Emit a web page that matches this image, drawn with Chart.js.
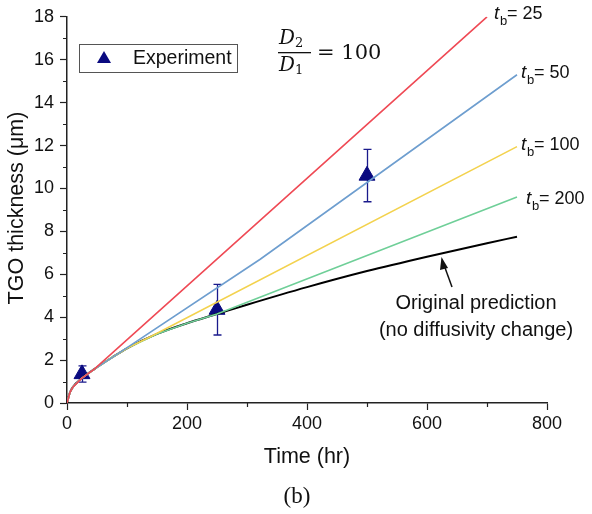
<!DOCTYPE html>
<html lang="en">
<head>
  <meta charset="UTF-8" />
  <title>TGO thickness</title>
  <script src="https://cdn.jsdelivr.net/npm/chart.js"></script>
  <style>
    html, body { margin: 0; padding: 0; background: #fff; }
    .wrap { width: 592px; height: 514px; position: relative; }
  </style>
</head>
<body>
  <div class="wrap"><canvas id="tgo-chart"></canvas></div>

  <script>
    // original prediction (no diffusivity change)
    const origTime = [0, 5, 10, 25, 45, 75, 100, 150, 200, 250, 300, 400, 500, 600, 700, 750];
    const origThick = [0, 0.5, 0.75, 1.16, 1.57, 2.12, 2.55, 3.22, 3.72, 4.15, 4.58, 5.4, 6.15, 6.82, 7.45, 7.75];

    // changed diffusivity, D2/D1 = 100
    const tb25Time = [0, 5, 10, 25, 45, 700];
    const tb25Thick = [0, 0.5, 0.75, 1.16, 1.57, 18];
    const tb50Time = [0, 5, 10, 25, 45, 77, 322, 750];
    const tb50Thick = [0, 0.5, 0.75, 1.16, 1.57, 2.15, 6.7, 15.3];
    const tb100Time = [0, 5, 10, 25, 45, 75, 100, 138, 750];
    const tb100Thick = [0, 0.5, 0.75, 1.16, 1.57, 2.12, 2.55, 3.08, 11.95];
    const tb200Time = [0, 5, 10, 25, 45, 75, 100, 150, 200, 250, 750];
    const tb200Thick = [0, 0.5, 0.75, 1.16, 1.57, 2.12, 2.55, 3.22, 3.72, 4.15, 9.6];

    // experiment
    const expTime = [25, 250, 500];
    const expThick = [1.35, 4.35, 10.6];
    const expErr = [0.38, 1.18, 1.22];

    const xTicks = [0, 200, 400, 600, 800];
    const yTicks = [0, 2, 4, 6, 8, 10, 12, 14, 16, 18];

    const lineLabels = [
      { tb: "25", x: 494, y: 14 },
      { tb: "50", x: 521, y: 73 },
      { tb: "100", x: 521, y: 145 },
      { tb: "200", x: 526, y: 199 }
    ];

    const pts = (xs, ys) => xs.map((x, i) => ({ x, y: ys[i] }));
    const SANS = "'Liberation Sans', Arial, sans-serif";
    const SERIF = "'DejaVu Serif', 'Liberation Serif', serif";

    const extras = {
      id: "extras",
      beforeDatasetsDraw(chart) {
        const { ctx, scales: { x, y } } = chart;
        ctx.save();
        // error bars
        ctx.strokeStyle = "#1a1a8c";
        ctx.lineWidth = 1.3;
        expTime.forEach((t, i) => {
          const px = Math.round(x.getPixelForValue(t)) + 0.5;
          const top = y.getPixelForValue(expThick[i] + expErr[i]);
          const bot = y.getPixelForValue(expThick[i] - expErr[i]);
          ctx.beginPath();
          ctx.moveTo(px, top); ctx.lineTo(px, bot);
          ctx.moveTo(px - 4, top); ctx.lineTo(px + 4, top);
          ctx.moveTo(px - 4, bot); ctx.lineTo(px + 4, bot);
          ctx.stroke();
        });
        ctx.restore();
      },
      afterDraw(chart) {
        const { ctx, scales: { x, y }, chartArea: a } = chart;
        ctx.save();
        // minor ticks
        ctx.strokeStyle = "#222";
        ctx.lineWidth = 1.2;
        ctx.beginPath();
        for (let v = 100; v < 800; v += 200) {
          const px = Math.round(x.getPixelForValue(v)) + 0.5;
          ctx.moveTo(px, a.bottom); ctx.lineTo(px, a.bottom + 4);
        }
        for (let v = 1; v < 18; v += 2) {
          const py = Math.round(y.getPixelForValue(v)) + 0.5;
          ctx.moveTo(a.left, py); ctx.lineTo(a.left - 4, py);
        }
        ctx.stroke();

        // legend box
        ctx.strokeStyle = "#555";
        ctx.lineWidth = 1;
        ctx.strokeRect(79.5, 44.5, 158, 28);
        ctx.fillStyle = "#0a0a80";
        ctx.beginPath();
        ctx.moveTo(104, 51); ctx.lineTo(111, 63); ctx.lineTo(97, 63);
        ctx.closePath(); ctx.fill();
        ctx.fillStyle = "#111";
        ctx.font = "19.5px " + SANS;
        ctx.textBaseline = "middle";
        ctx.textAlign = "left";
        ctx.fillText("Experiment", 133, 59);

        // t_b labels
        lineLabels.forEach(l => {
          ctx.font = "italic 19px " + SANS;
          ctx.fillText("t", l.x, l.y);
          ctx.font = "13px " + SANS;
          ctx.fillText("b", l.x + 6, l.y + 7);
          ctx.font = "18px " + SANS;
          ctx.fillText("= " + l.tb, l.x + 13, l.y);
        });

        // D2/D1 = 100
        ctx.font = "italic 20px " + SERIF;
        ctx.textAlign = "left";
        ctx.fillText("D", 279, 39);
        ctx.fillText("D", 279, 66);
        ctx.font = "13px " + SERIF;
        ctx.fillText("2", 295, 44);
        ctx.fillText("1", 295, 71);
        ctx.fillRect(278, 52, 33, 1.3);
        ctx.font = "21px " + SERIF;
        ctx.fillText("= 100", 317, 54);

        // arrow
        ctx.strokeStyle = "#111";
        ctx.fillStyle = "#111";
        ctx.lineWidth = 1.5;
        ctx.beginPath();
        ctx.moveTo(452, 287); ctx.lineTo(444, 265);
        ctx.stroke();
        ctx.beginPath();
        ctx.moveTo(441.5, 257); ctx.lineTo(448, 268); ctx.lineTo(440, 270);
        ctx.closePath(); ctx.fill();

        // annotation
        ctx.font = "20px " + SANS;
        ctx.textAlign = "center";
        ctx.fillText("Original prediction", 476, 303);
        ctx.fillText("(no diffusivity change)", 476, 330);

        // axis titles
        ctx.font = "21.5px " + SANS;
        ctx.fillText("Time (hr)", 307, 457);
        ctx.save();
        ctx.translate(17, 208);
        ctx.rotate(-Math.PI / 2);
        ctx.fillText("TGO thickness (\u03bcm)", 0, 0);
        ctx.restore();

        // panel label
        ctx.font = "23px 'Liberation Serif', serif";
        ctx.fillText("(b)", 297, 497);
        ctx.restore();
      }
    };

    const lineDs = (label, data, color, width, smooth) => ({
      type: "line",
      label,
      data,
      borderColor: color,
      borderWidth: width,
      pointRadius: 0,
      fill: false,
      cubicInterpolationMode: smooth ? "monotone" : "default",
      tension: 0
    });

    new Chart(document.getElementById("tgo-chart").getContext("2d"), {
      type: "scatter",
      data: {
        datasets: [
          lineDs("tb = 25", pts(tb25Time, tb25Thick), "#ef4a55", 1.6, false),
          lineDs("tb = 50", pts(tb50Time, tb50Thick), "#6e9ecf", 1.6, false),
          lineDs("tb = 100", pts(tb100Time, tb100Thick), "#f3d24e", 1.6, false),
          lineDs("tb = 200", pts(tb200Time, tb200Thick), "#6fcf98", 1.6, false),
          lineDs("Original prediction", pts(origTime, origThick), "#000000", 2, true),
          {
            label: "Experiment",
            data: pts(expTime, expThick),
            pointStyle: "triangle",
            pointRadius: 9.2,
            backgroundColor: "#0a0a80",
            borderColor: "#0a0a80",
            borderWidth: 1
          }
        ]
      },
      options: {
        responsive: true,
        maintainAspectRatio: false,
        animation: false,
        layout: { padding: { left: 0, top: 15, right: 45, bottom: 51 } },
        plugins: { legend: { display: false }, tooltip: { enabled: false } },
        scales: {
          x: {
            type: "linear",
            min: 0,
            max: 800,
            afterFit: s => { s.height = 60; },
            afterBuildTicks: s => { s.ticks = xTicks.map(v => ({ value: v })); },
            ticks: { color: "#111", font: { family: SANS, size: 18 }, padding: 3, maxRotation: 0 },
            grid: { drawOnChartArea: false, tickLength: 7, tickColor: "#222", tickWidth: 1.2 },
            border: { color: "#222", width: 1.5 }
          },
          y: {
            min: 0,
            max: 18,
            afterFit: s => { s.width = 67; },
            afterBuildTicks: s => { s.ticks = yTicks.map(v => ({ value: v })); },
            ticks: { color: "#111", font: { family: SANS, size: 18 }, padding: 6 },
            grid: { drawOnChartArea: false, tickLength: 7, tickColor: "#222", tickWidth: 1.2 },
            border: { color: "#222", width: 1.5 }
          }
        }
      },
      plugins: [extras]
    });
  </script>
</body>
</html>
